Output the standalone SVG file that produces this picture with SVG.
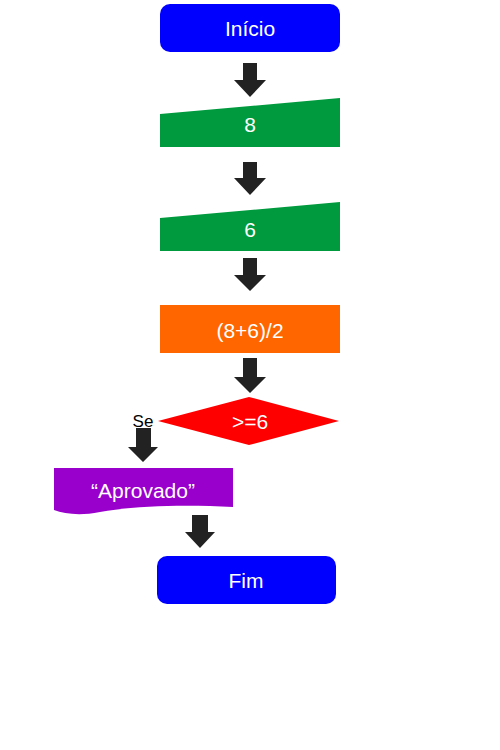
<svg xmlns="http://www.w3.org/2000/svg" width="500" height="750" viewBox="0 0 500 750">
<style>
.t{font-family:"Liberation Sans",Arial,sans-serif;font-size:21px;fill:#fff;text-anchor:middle;dominant-baseline:central}
.arr{fill:#222}
</style>
<rect width="500" height="750" fill="#fff"/>
<g id="connectors">
<polygon class="arr" points="243,63 257,63 257,80 266,80 250,97 234,80 243,80"/>
<polygon class="arr" points="243,162 257,162 257,178 266,178 250,195 234,178 243,178"/>
<polygon class="arr" points="243,258 257,258 257,275 266,275 250,291 234,275 243,275"/>
<polygon class="arr" points="243,358 257,358 257,377 266,377 250,393 234,377 243,377"/>
<polygon class="arr" points="136,428 151,428 151,447 158,447 143,462 128,447 136,447"/>
<polygon class="arr" points="192,515 208,515 208,532 215,532 200,548 185,532 192,532"/>
<text x="143" y="421" font-family="Liberation Sans,Arial,sans-serif" font-size="17" fill="#000" text-anchor="middle" dominant-baseline="central">Se</text>
</g>
<g id="inicio">
<rect x="160" y="4" width="180" height="48" rx="10" fill="#0000ff"/>
<text class="t" x="250" y="28">Início</text>
</g>
<g id="input8">
<polygon points="160,114 340,98 340,147 160,147" fill="#009a3e"/>
<text class="t" x="250" y="124">8</text>
</g>
<g id="input6">
<polygon points="160,218 340,202 340,251 160,251" fill="#009a3e"/>
<text class="t" x="250" y="229">6</text>
</g>
<g id="calc">
<rect x="160" y="305" width="180" height="48" fill="#ff6600"/>
<text class="t" x="250" y="330">(8+6)/2</text>
</g>
<g id="decision">
<polygon points="158,421 249,397 339,421 249,445" fill="#ff0000"/>
<text class="t" x="250" y="421">&gt;=6</text>
</g>
<g id="aprovado">
<path d="M54,468 H233 V507 C190,505 140,505 100,512 C80,516 65,514 54,510 Z" fill="#9900cc"/>
<text class="t" x="143" y="490">“Aprovado”</text>
</g>
<g id="fim">
<rect x="157" y="556" width="179" height="48" rx="10" fill="#0000ff"/>
<text class="t" x="246" y="580">Fim</text>
</g>
</svg>
